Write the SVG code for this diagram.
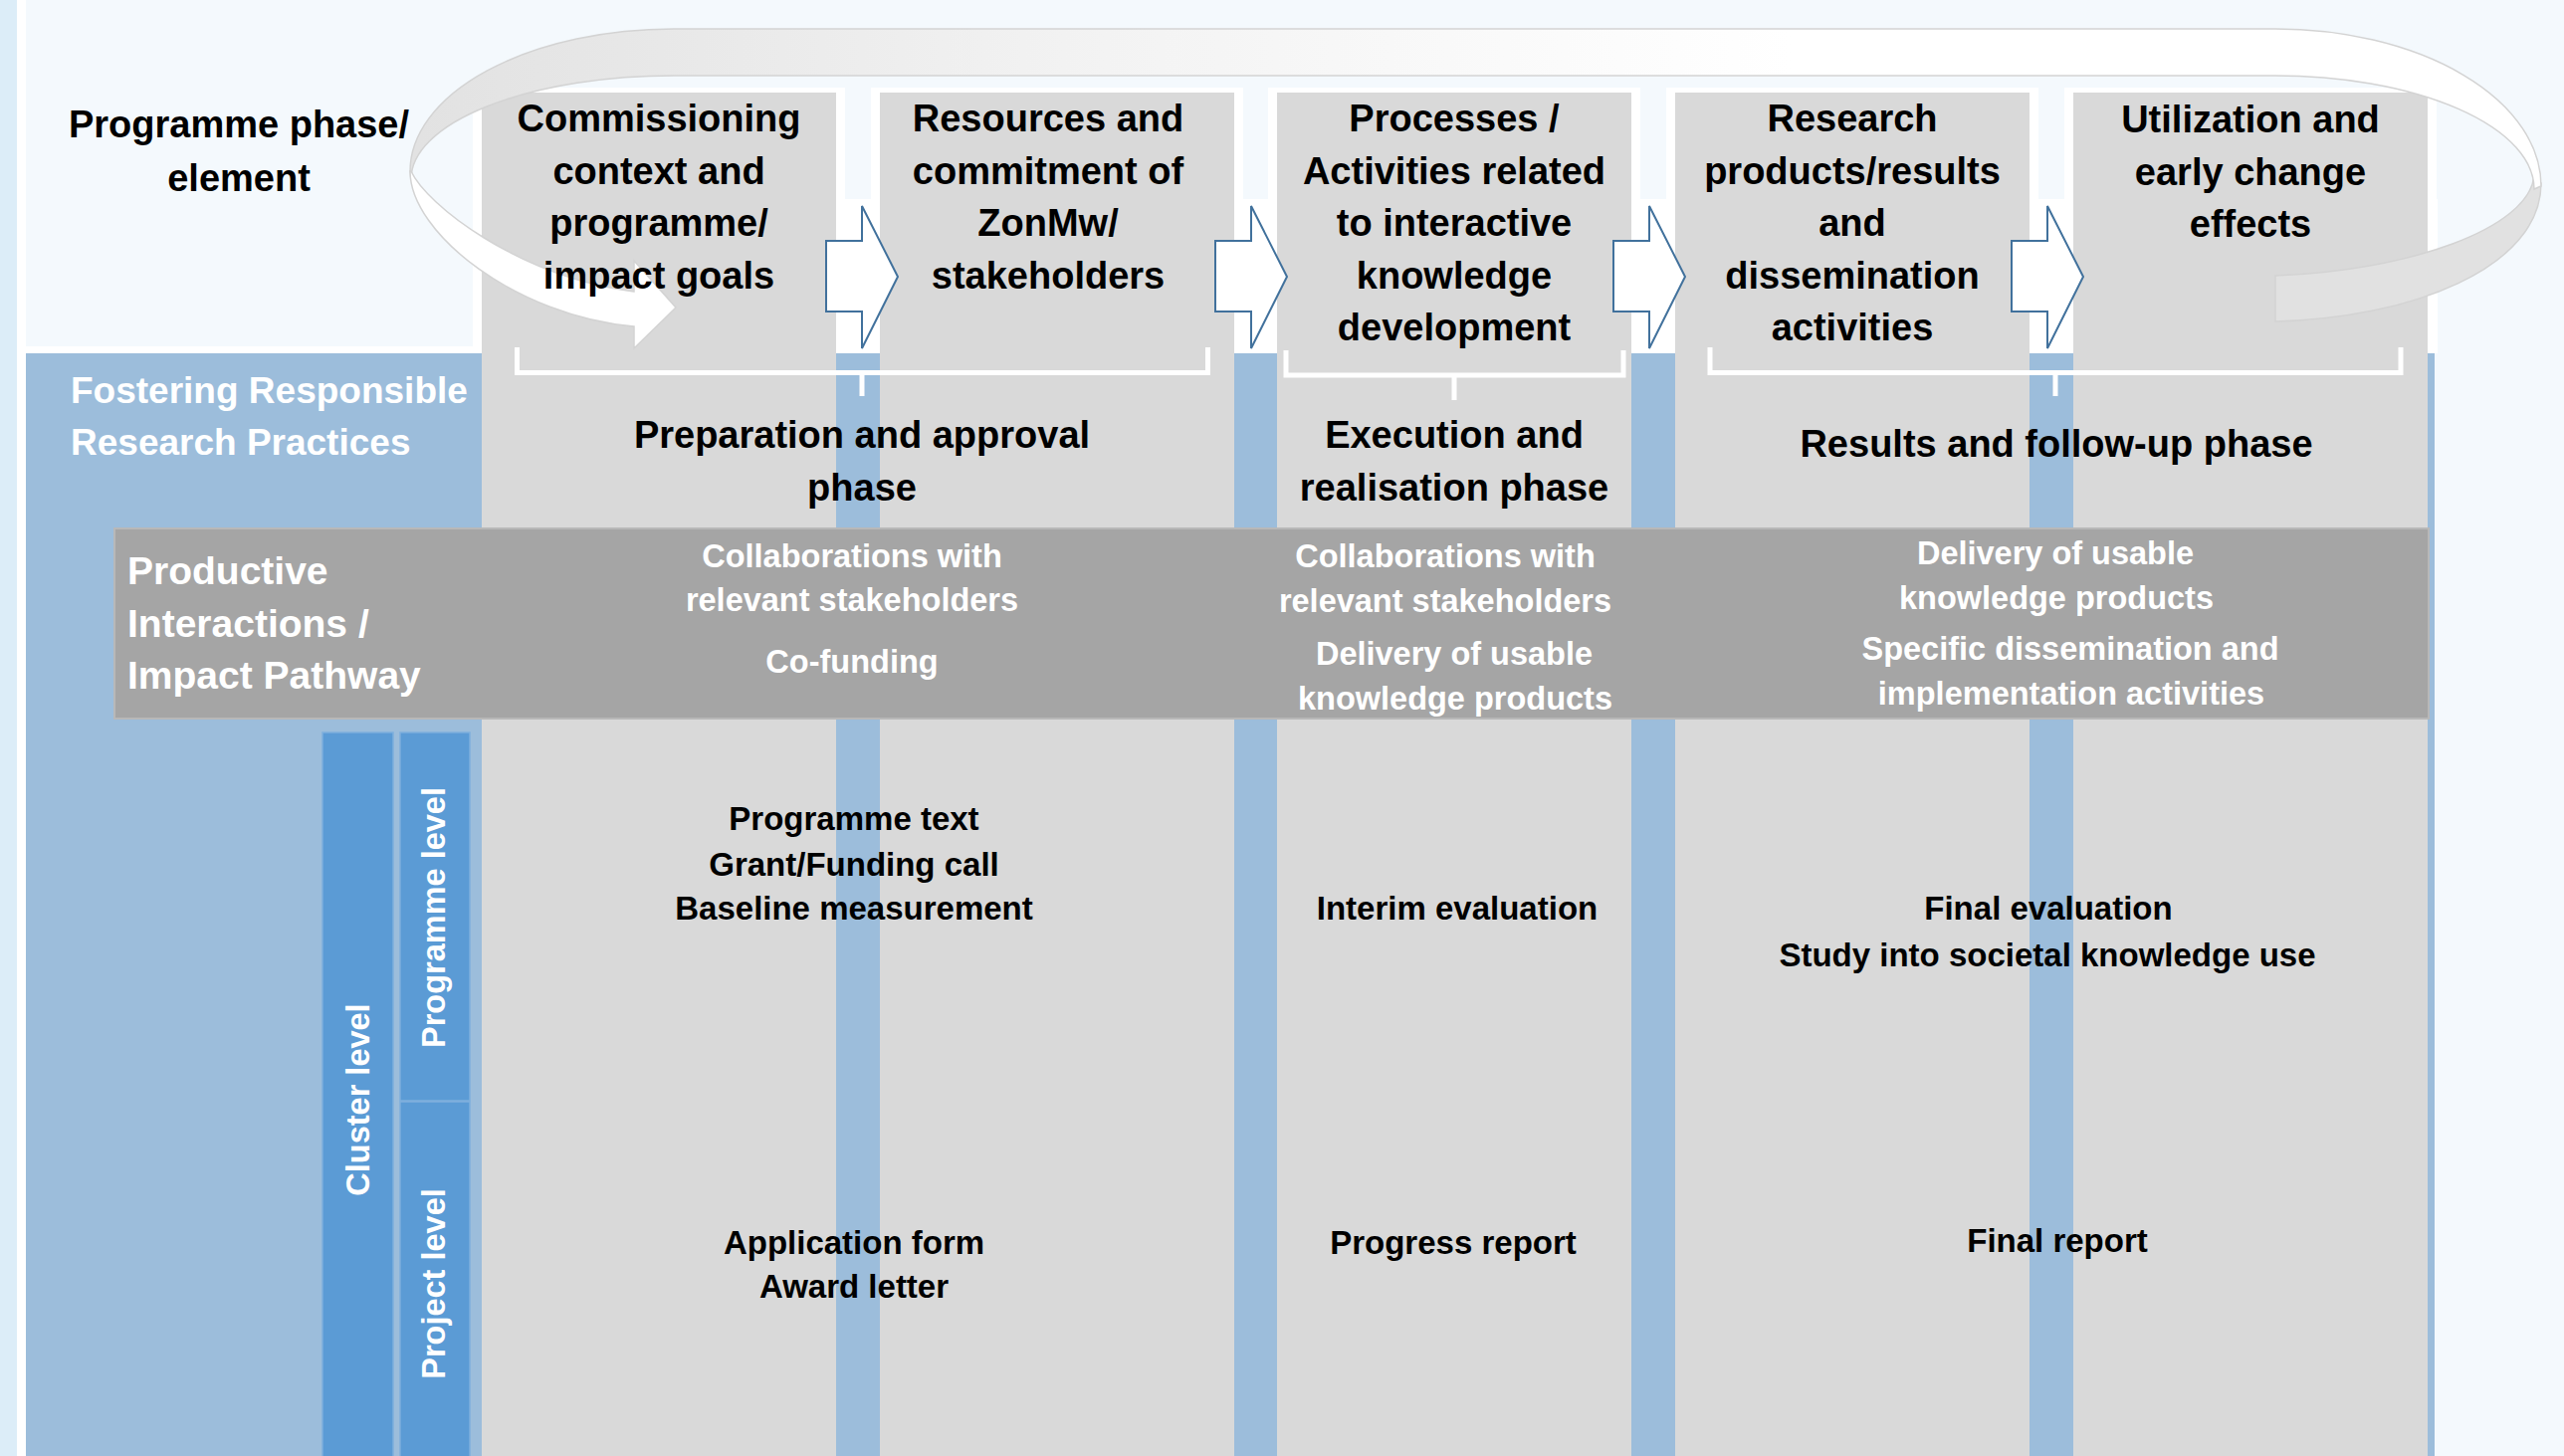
<svg xmlns="http://www.w3.org/2000/svg" width="2576" height="1463" viewBox="0 0 2576 1463">
<defs>
<style>
.t{font-family:"Liberation Sans",Arial,sans-serif;font-weight:bold;text-anchor:middle}
.hdr{font-size:38px;fill:#000}
.ph{font-size:38px;fill:#000}
.band{font-size:32.5px;fill:#fff}
.cell{font-size:33px;fill:#000}
.side{font-size:37px;fill:#fff;text-anchor:start}
.side2{font-size:39px;fill:#fff;text-anchor:start}
.vert{font-size:32.5px;fill:#fff}
.col{fill:#d9d9d9}
.hbg{fill:#fff}
.brk{fill:none;stroke:#fff;stroke-width:5}
.blk{fill:#fff;stroke:#41719c;stroke-width:2;stroke-linejoin:miter}
.bar{fill:#5b9bd5;stroke:#7dafdd;stroke-width:1.5}
.rib{stroke:#d3d3d3;stroke-width:1.5}
</style>
<linearGradient id="ribbonGrad" gradientUnits="userSpaceOnUse" x1="420" y1="0" x2="1800" y2="0">
<stop offset="0" stop-color="#e2e2e2"/>
<stop offset="0.5" stop-color="#f3f3f3"/>
<stop offset="1" stop-color="#ffffff"/>
</linearGradient>
</defs>

<g id="background">
<rect x="0" y="0" width="2576" height="1463" fill="#f4f9fd"/>
<rect x="0" y="0" width="17" height="1463" fill="#dcedf8"/>
<rect x="17" y="0" width="9" height="1463" fill="#ffffff"/>
<rect x="26" y="348" width="458" height="7" fill="#ffffff"/>
<rect x="26" y="355" width="2420" height="1108" fill="#9cbddb"/>
<rect class="hbg" x="475" y="88" width="374" height="112"/>
<rect class="hbg" x="875" y="88" width="374" height="112"/>
<rect class="hbg" x="1274" y="88" width="374" height="112"/>
<rect class="hbg" x="1674" y="88" width="374" height="112"/>
<rect class="hbg" x="2074" y="88" width="374" height="112"/>
<rect class="hbg" x="475" y="200" width="1974" height="155"/>
</g>

<g id="columns">
<rect class="col" x="484" y="93" width="356" height="1370"/>
<rect class="col" x="884" y="93" width="356" height="1370"/>
<rect class="col" x="1283" y="93" width="356" height="1370"/>
<rect class="col" x="1683" y="93" width="356" height="1370"/>
<rect class="col" x="2083" y="93" width="356" height="1370"/>
</g>

<g id="brackets">
<path class="brk" d="M519.5 349 V374.5 H1213.5 V349 M866 374.5 V398"/>
<path class="brk" d="M1292 352 V377 H1631 V352 M1461 377 V402"/>
<path class="brk" d="M1718 349 V374.5 H2412 V349 M2065 374.5 V398"/>
</g>

<g id="band-productive-interactions">
<rect x="115" y="531" width="2325" height="191" fill="#a5a5a5" stroke="#b8b8b8" stroke-width="2"/>
</g>

<g id="level-bars">
<rect class="bar" x="324" y="736" width="71" height="730"/>
<rect class="bar" x="402" y="736" width="70" height="370"/>
<rect class="bar" x="402" y="1107" width="70" height="360"/>
</g>

<g id="connectors">
<path class="rib" fill="#e1e1e1" d="M2553 184 C2553 270 2420 320 2286 323 L2286 277 C2420 272 2540 230 2546 177 Z"/>
<path class="rib" fill="url(#ribbonGrad)" d="M412 172 A265 143 0 0 1 677 29 L2286 29 A267 158 0 0 1 2553 187 L2546 190 A260 114 0 0 0 2286 76 L677 76 A264 104 0 0 0 413 180 Z"/>
<path class="rib" fill="#ffffff" d="M413 172 C428 205 520 278 637 293 L637 262 L679 309 L637 350 L637 328 C520 318 412 235 412 172 Z"/>
<polygon class="blk" points="830,242 866,242 866,207 902,278 866,350 866,313 830,313"/>
<polygon class="blk" points="1221,242 1257,242 1257,207 1293,278 1257,350 1257,313 1221,313"/>
<polygon class="blk" points="1621,242 1657,242 1657,207 1693,278 1657,350 1657,313 1621,313"/>
<polygon class="blk" points="2021,242 2057,242 2057,207 2093,278 2057,350 2057,313 2021,313"/>
</g>

<g id="node-programme-phase-label">
<text class="t hdr" x="240" y="138">Programme phase/</text>
<text class="t hdr" x="240" y="192">element</text>
</g>

<g id="node-commissioning">
<text class="t hdr" x="662" y="132">Commissioning</text>
<text class="t hdr" x="662" y="184.5">context and</text>
<text class="t hdr" x="662" y="237">programme/</text>
<text class="t hdr" x="662" y="289.5">impact goals</text>
</g>

<g id="node-resources">
<text class="t hdr" x="1053" y="132">Resources and</text>
<text class="t hdr" x="1053" y="184.5">commitment of</text>
<text class="t hdr" x="1053" y="237">ZonMw/</text>
<text class="t hdr" x="1053" y="289.5">stakeholders</text>
</g>

<g id="node-processes">
<text class="t hdr" x="1461" y="132">Processes /</text>
<text class="t hdr" x="1461" y="184.5">Activities related</text>
<text class="t hdr" x="1461" y="237">to interactive</text>
<text class="t hdr" x="1461" y="289.5">knowledge</text>
<text class="t hdr" x="1461" y="342">development</text>
</g>

<g id="node-research-products">
<text class="t hdr" x="1861" y="132">Research</text>
<text class="t hdr" x="1861" y="184.5">products/results</text>
<text class="t hdr" x="1861" y="237">and</text>
<text class="t hdr" x="1861" y="289.5">dissemination</text>
<text class="t hdr" x="1861" y="342">activities</text>
</g>

<g id="node-utilization">
<text class="t hdr" x="2261" y="133">Utilization and</text>
<text class="t hdr" x="2261" y="185.5">early change</text>
<text class="t hdr" x="2261" y="238">effects</text>
</g>

<g id="node-fostering">
<text class="t side" x="71" y="405">Fostering Responsible</text>
<text class="t side" x="71" y="457">Research Practices</text>
</g>

<g id="node-phase-preparation">
<text class="t ph" x="866" y="450">Preparation and approval</text>
<text class="t ph" x="866" y="503">phase</text>
</g>

<g id="node-phase-execution">
<text class="t ph" x="1461" y="450">Execution and</text>
<text class="t ph" x="1461" y="503">realisation phase</text>
</g>

<g id="node-phase-results">
<text class="t ph" x="2066" y="459">Results and follow-up phase</text>
</g>

<g id="node-productive-interactions">
<text class="t side2" x="128" y="587">Productive</text>
<text class="t side2" x="128" y="640">Interactions /</text>
<text class="t side2" x="128" y="692">Impact Pathway</text>
</g>

<g id="node-band-preparation">
<text class="t band" x="856" y="570">Collaborations with</text>
<text class="t band" x="856" y="614">relevant stakeholders</text>
<text class="t band" x="856" y="676">Co-funding</text>
</g>

<g id="node-band-execution">
<text class="t band" x="1452" y="570">Collaborations with</text>
<text class="t band" x="1452" y="615">relevant stakeholders</text>
<text class="t band" x="1461" y="668">Delivery of usable</text>
<text class="t band" x="1462" y="713">knowledge products</text>
</g>

<g id="node-band-results">
<text class="t band" x="2065" y="567">Delivery of usable</text>
<text class="t band" x="2066" y="612">knowledge products</text>
<text class="t band" x="2080" y="663">Specific dissemination and</text>
<text class="t band" x="2081" y="708">implementation activities</text>
</g>

<g id="node-cluster-level">
<text class="t vert" transform="translate(371 1105) rotate(-90)">Cluster level</text>
</g>
<g id="node-programme-level">
<text class="t vert" transform="translate(447 922) rotate(-90)">Programme level</text>
</g>
<g id="node-project-level">
<text class="t vert" transform="translate(447 1290) rotate(-90)">Project level</text>
</g>

<g id="node-programme-preparation">
<text class="t cell" x="858" y="834">Programme text</text>
<text class="t cell" x="858" y="880">Grant/Funding call</text>
<text class="t cell" x="858" y="924">Baseline measurement</text>
</g>
<g id="node-programme-execution">
<text class="t cell" x="1464" y="924">Interim evaluation</text>
</g>
<g id="node-programme-results">
<text class="t cell" x="2058" y="924">Final evaluation</text>
<text class="t cell" x="2057" y="971">Study into societal knowledge use</text>
</g>
<g id="node-project-preparation">
<text class="t cell" x="858" y="1260">Application form</text>
<text class="t cell" x="858" y="1304">Award letter</text>
</g>
<g id="node-project-execution">
<text class="t cell" x="1460" y="1260">Progress report</text>
</g>
<g id="node-project-results">
<text class="t cell" x="2067" y="1258">Final report</text>
</g>
</svg>
